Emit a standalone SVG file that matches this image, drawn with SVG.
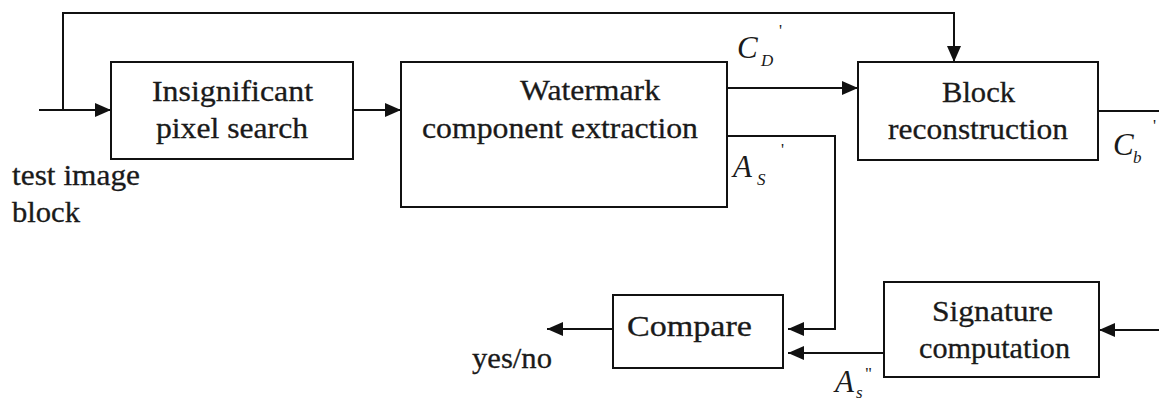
<svg xmlns="http://www.w3.org/2000/svg" width="1159" height="404" viewBox="0 0 1159 404">
  <defs>
    <marker id="arrow" markerUnits="userSpaceOnUse" markerWidth="16" markerHeight="14" refX="16" refY="7" orient="auto">
      <path d="M0,0 L16,7 L0,14 z" fill="#111"/>
    </marker>
    <style>
      .box { fill: #fff; stroke: #111; stroke-width: 2; }
      .wire { fill: none; stroke: #111; stroke-width: 2; }
      .arr { marker-end: url(#arrow); }
      .lbl { font-family: "Liberation Serif", "Times New Roman", "DejaVu Serif", serif; font-size: 29px; fill: #1a1a1a; stroke: #1a1a1a; stroke-width: 0.3px; }
      .sym { font-family: "Liberation Serif", "Times New Roman", "DejaVu Serif", serif; font-style: italic; font-size: 31px; fill: #1a1a1a; }
      .sub { font-family: "Liberation Serif", "Times New Roman", "DejaVu Serif", serif; font-style: italic; font-size: 17px; fill: #1a1a1a; }
      .pr { font-family: "Liberation Serif", "Times New Roman", "DejaVu Serif", serif; font-size: 17px; fill: #1a1a1a; }
    </style>
  </defs>
  <rect width="1159" height="404" fill="#fff"/>

  <!-- connectors -->
  <g id="connectors">
    <!-- input and bypass to block reconstruction -->
    <line class="wire arr" x1="39" y1="110" x2="111" y2="110"/>
    <polyline class="wire arr" points="63,110 63,13 954,13 954,62"/>
    <!-- pixel search to extraction -->
    <line class="wire arr" x1="353" y1="110" x2="401" y2="110"/>
    <!-- C_D' -->
    <line class="wire arr" x1="727" y1="88" x2="858" y2="88"/>
    <!-- A_S' down to compare -->
    <polyline class="wire arr" points="721,136 835,136 835,329 788,329"/>
    <!-- reconstructed block output -->
    <line class="wire" x1="1098" y1="111" x2="1159" y2="111"/>
    <!-- feed into signature computation -->
    <line class="wire arr" x1="1159" y1="330" x2="1099" y2="330"/>
    <!-- A_s'' to compare -->
    <line class="wire arr" x1="884" y1="353" x2="788" y2="353"/>
    <!-- decision output -->
    <line class="wire arr" x1="613" y1="329" x2="547" y2="329"/>
  </g>

  <g id="input-label">
    <text class="lbl" x="12" y="185" textLength="128" lengthAdjust="spacingAndGlyphs">test image</text>
    <text class="lbl" x="12" y="222" textLength="68" lengthAdjust="spacingAndGlyphs">block</text>
  </g>

  <g id="pixel-search">
    <rect class="box" x="111" y="62" width="242" height="97"/>
    <text class="lbl" x="152" y="101" textLength="161" lengthAdjust="spacingAndGlyphs">Insignificant</text>
    <text class="lbl" x="156" y="138" textLength="152" lengthAdjust="spacingAndGlyphs">pixel search</text>
  </g>

  <g id="extraction">
    <rect class="box" x="401" y="62" width="326" height="145"/>
    <text class="lbl" x="520" y="100" textLength="140" lengthAdjust="spacingAndGlyphs">Watermark</text>
    <text class="lbl" x="422" y="138" textLength="276" lengthAdjust="spacingAndGlyphs">component extraction</text>
  </g>

  <g id="reconstruction">
    <rect class="box" x="858" y="62" width="240" height="98"/>
    <text class="lbl" x="942" y="102" textLength="73" lengthAdjust="spacingAndGlyphs">Block</text>
    <text class="lbl" x="888" y="139" textLength="180" lengthAdjust="spacingAndGlyphs">reconstruction</text>
  </g>

  <g id="compare">
    <rect class="box" x="613" y="295" width="170" height="73"/>
    <text class="lbl" x="627" y="336" textLength="125" lengthAdjust="spacingAndGlyphs">Compare</text>
  </g>

  <g id="signature">
    <rect class="box" x="884" y="282" width="215" height="95"/>
    <text class="lbl" x="932" y="321" textLength="121" lengthAdjust="spacingAndGlyphs">Signature</text>
    <text class="lbl" x="919" y="358" textLength="151" lengthAdjust="spacingAndGlyphs">computation</text>
  </g>

  <g id="output-label">
    <text class="lbl" x="472" y="368" textLength="80" lengthAdjust="spacingAndGlyphs">yes/no</text>
  </g>

  <!-- signal labels -->
  <g id="signal-labels">
    <text class="sym" x="737" y="58">C</text>
    <text class="sub" x="761" y="66">D</text>
    <text class="pr" x="779" y="36">'</text>

    <text class="sym" x="733" y="177">A</text>
    <text class="sub" x="757" y="185">S</text>
    <text class="pr" x="781" y="155">'</text>

    <text class="sym" x="1113" y="155">C</text>
    <text class="sub" x="1133" y="163">b</text>
    <text class="pr" x="1153" y="131">'</text>

    <text class="sym" x="835" y="392">A</text>
    <text class="sub" x="856" y="398" font-size="15">s</text>
    <text class="pr" x="865" y="379" font-size="13">"</text>
  </g>
</svg>
